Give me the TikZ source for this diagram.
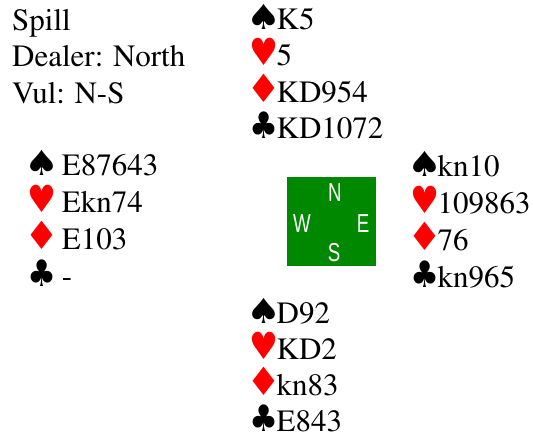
\documentclass[tikz,border=0pt]{standalone}
\usepackage{fontspec}
\usepackage{graphicx}
\newcommand{\cardfont}{\fontencoding{T1}\fontfamily{ptm}\selectfont}
\newfontfamily\suitfont{DejaVu Sans}
\newfontfamily\boardfont[FakeStretch=0.72]{Liberation Sans}
\usetikzlibrary{positioning}

\definecolor{boardgreen}{RGB}{0,136,0}
\definecolor{suitred}{RGB}{255,0,0}
\newcommand{\suitbox}[4]{\makebox[25pt][c]{\color{#1}\scalebox{#2}[#3]{\suitfont\fontsize{30}{30}\selectfont #4}}}
\newcommand{\spd}{\suitbox{black}{1.3}{1.15}{♠}}
\newcommand{\hrt}{\suitbox{suitred}{1.08}{1.25}{♥}}
\newcommand{\dmd}{\suitbox{suitred}{1.3}{1.3}{♦}}
\newcommand{\clb}{\suitbox{black}{1.08}{1.22}{♣}}

\begin{document}
\begin{tikzpicture}[x=1pt, y=-1pt]
\tikzset{row/.style={anchor=base west, inner sep=0pt, font=\cardfont\fontsize{31}{37}\selectfont},
		board/.style={rectangle, fill=boardgreen, minimum size=89pt, inner sep=0pt},
		dir/.style={text=white, inner sep=0pt, text height=19pt, text depth=0pt, font=\boardfont\fontsize{26}{26}\selectfont}}
\useasboundingbox (0,0) rectangle (533,439);
% deal info
\node[row] (title) at (12,30) {Spill};
\node[row] (dealer) at ([yshift=-36.5pt]title.base west) {Dealer: North};
\node[row] (vul) at ([yshift=-36.5pt]dealer.base west) {Vul: N-S};
% north
\node[row] (nS) at (251.5,29) {\spd K5};
\node[row] (nH) at ([yshift=-36.5pt]nS.base west) {\hrt 5};
\node[row] (nD) at ([yshift=-36.5pt]nH.base west) {\dmd KD954};
\node[row] (nC) at ([yshift=-36.5pt]nD.base west) {\clb KD1072};
% west
\node[row] (wS) at (29,175) {\spd\ E87643};
\node[row] (wH) at ([yshift=-37.3pt]wS.base west) {\hrt\ Ekn74};
\node[row] (wD) at ([yshift=-37.3pt]wH.base west) {\dmd\ E103};
\node[row] (wC) at ([yshift=-37.3pt]wD.base west) {\clb\ -};
% east
\node[row] (eS) at (412.5,176) {\spd kn10};
\node[row] (eH) at ([yshift=-37pt]eS.base west) {\hrt 109863};
\node[row] (eD) at ([yshift=-37pt]eH.base west) {\dmd 76};
\node[row] (eC) at ([yshift=-37pt]eD.base west) {\clb kn965};
% south
\node[row] (sS) at (251.5,323) {\spd D92};
\node[row] (sH) at ([yshift=-36.2pt]sS.base west) {\hrt KD2};
\node[row] (sD) at ([yshift=-36.2pt]sH.base west) {\dmd kn83};
\node[row] (sC) at ([yshift=-36.2pt]sD.base west) {\clb E843};
% compass
\node[board] (table) at (331.5,221.5) {};
\node[dir] (dN) at ([xshift=3.5pt, yshift=29.5pt]table.center) {N};
\node[dir] (dW) at ([xshift=-29.5pt, yshift=-1.5pt]table.center) {W};
\node[dir] (dE) at ([xshift=31.5pt, yshift=-1.5pt]table.center) {E};
\node[dir] (dS) at ([xshift=2.5pt, yshift=-30.5pt]table.center) {S};
\end{tikzpicture}
\end{document}
